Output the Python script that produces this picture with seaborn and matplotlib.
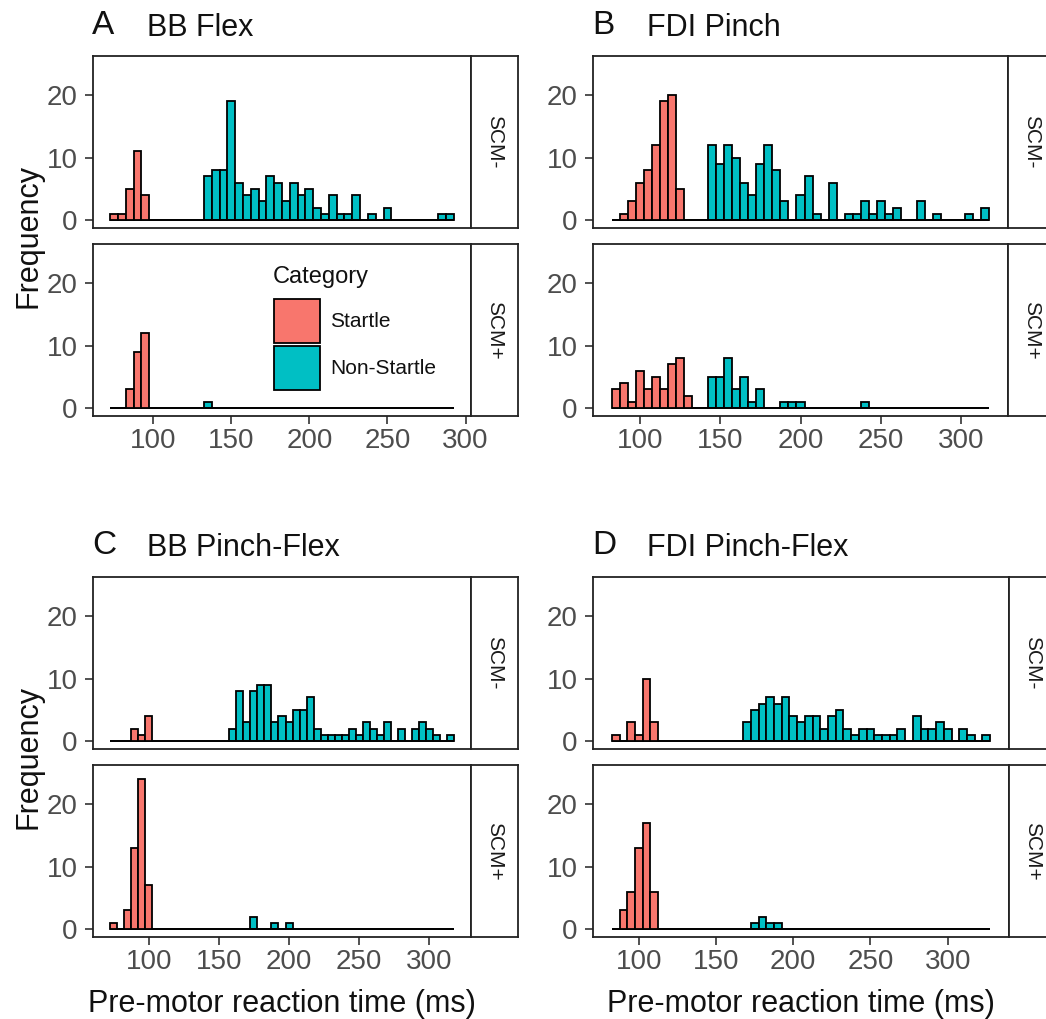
import numpy as np
import pandas as pd
import matplotlib
matplotlib.use("Agg")
import matplotlib.pyplot as plt
from matplotlib.patches import Rectangle
import seaborn as sns

# ---- data: counts per 5 ms bin, bins start at the given lower edge ----
BIN_WIDTH = 5.0
categories = ["Startle", "Non-Startle"]
facet_labels = ["SCM-", "SCM+"]

# BB Flex (44 bins from 72.5 ms)
bb_flex_start = 72.5
bb_flex_neg_startle = [1, 1, 5, 11, 4] + [0] * 39
bb_flex_neg_non = ([0] * 12
                   + [7, 8, 8, 19, 6, 4, 5, 3, 7, 6, 3, 6, 4, 5, 2, 1, 4, 1, 1, 4]
                   + [0, 1, 0, 2, 0, 0, 0, 0, 0, 0, 1, 1])
bb_flex_pos_startle = [0, 0, 3, 9, 12] + [0] * 39
bb_flex_pos_non = [0] * 12 + [1] + [0] * 31

# FDI Pinch (47 bins from 82.5 ms)
fdi_pinch_start = 82.5
fdi_pinch_neg_startle = [0, 1, 3, 6, 8, 12, 19, 20, 5] + [0] * 38
fdi_pinch_neg_non = ([0] * 12
                     + [12, 9, 12, 10, 6, 4, 9, 12, 8, 3]
                     + [0, 4, 7, 1, 0, 6, 0, 1, 1, 3, 1, 3, 1, 2, 0, 0, 3, 0, 1,
                        0, 0, 0, 1, 0, 2])
fdi_pinch_pos_startle = [3, 4, 1, 6, 3, 5, 3, 7, 8, 2] + [0] * 37
fdi_pinch_pos_non = ([0] * 12 + [5, 5, 8, 3, 5, 1, 3] + [0, 0, 1, 1, 1]
                     + [0] * 7 + [1] + [0] * 15)

# BB Pinch-Flex (49 bins from 72.5 ms)
bb_pf_start = 72.5
bb_pf_neg_startle = [0, 0, 0, 2, 1, 4] + [0] * 43
bb_pf_neg_non = ([0] * 17
                 + [2, 8, 3, 8, 9, 9, 3, 4, 3, 5, 5, 7, 2, 1, 1, 1, 1, 2, 1, 3,
                    2, 1, 3, 0, 2, 0, 2, 3, 2, 1, 0, 1])
bb_pf_pos_startle = [1, 0, 3, 13, 24, 7] + [0] * 43
bb_pf_pos_non = [0] * 20 + [2, 0, 0, 1, 0, 1] + [0] * 23

# FDI Pinch-Flex (49 bins from 82.5 ms)
fdi_pf_start = 82.5
fdi_pf_neg_startle = [1, 0, 3, 1, 10, 3] + [0] * 43
fdi_pf_neg_non = ([0] * 17
                  + [3, 5, 6, 7, 6, 7, 4, 3, 4, 4, 2, 4, 5, 2, 1, 2, 2, 1, 1, 1,
                     2, 0, 4, 2, 2, 3, 2, 0, 2, 1, 0, 1])
fdi_pf_pos_startle = [0, 3, 6, 13, 17, 6] + [0] * 43
fdi_pf_pos_non = [0] * 18 + [1, 2, 1, 1] + [0] * 27

# ---- styling ----
W, H = 1046, 1019
STARTLE_COL = "#F8766D"
NON_COL = "#00BFC4"
TICK_COL = "#4D4D4D"
LINE_COL = "#222222"
TEXT_COL = "#111111"
SANS = "Liberation Sans"

sns.set_theme(style="white")
plt.rcParams["font.family"] = [SANS, "DejaVu Sans"]

fig = plt.figure(figsize=(W / 100, H / 100), dpi=100)
fig.patch.set_facecolor("white")


def frame(x0, y0, x1, y1):
    """Axes placed by pixel box (top-left origin)."""
    return fig.add_axes([x0 / W, 1 - y1 / H, (x1 - x0) / W, (y1 - y0) / H])


def draw_facet(ax, edges, startle, non, show_x):
    centers = (edges[:-1] + edges[1:]) / 2
    n = len(centers)
    df = pd.DataFrame({
        "rt": np.concatenate([centers, centers]),
        "count": list(startle) + list(non),
        "Category": ["Startle"] * n + ["Non-Startle"] * n,
    })
    sns.histplot(data=df, x="rt", weights="count", hue="Category",
                 hue_order=categories, palette=[STARTLE_COL, NON_COL],
                 binwidth=BIN_WIDTH, binrange=(edges[0], edges[-1]),
                 multiple="layer", alpha=1, edgecolor="black",
                 linewidth=1.3, legend=False, ax=ax)
    pad = 0.05 * (edges[-1] - edges[0])
    ax.set_xlim(edges[0] - pad, edges[-1] + pad)
    ax.set_ylim(-1.25, 26.25)
    ax.set_yticks([0, 10, 20])
    ax.set_xticks([100, 150, 200, 250, 300])
    ax.set_xlabel("")
    ax.set_ylabel("")
    ax.set_facecolor("white")
    for sp in ax.spines.values():
        sp.set_color(LINE_COL)
        sp.set_linewidth(1.3)
        sp.set_visible(True)
    ax.tick_params(axis="y", left=True, length=5.5, width=1.1, color=LINE_COL,
                   pad=5.5, labelsize=20, labelcolor=TICK_COL)
    ax.tick_params(axis="x", bottom=show_x, labelbottom=show_x, length=5.5,
                   width=1.1, color=LINE_COL, pad=3, labelsize=20,
                   labelcolor=TICK_COL)


def draw_strip(x0, y0, x1, y1, text):
    s = frame(x0, y0, x1, y1)
    s.set_xticks([])
    s.set_yticks([])
    s.set_facecolor("white")
    for sp in s.spines.values():
        sp.set_color(LINE_COL)
        sp.set_linewidth(1.3)
        sp.set_visible(True)
    s.text(0.5, 0.5, text, rotation=-90, ha="center", va="center",
           fontsize=15, color="#1A1A1A", transform=s.transAxes)


def draw_panel(x0, x1, top, letter, title, start, nbins, series, xlabel, ylabel):
    edges = start + BIN_WIDTH * np.arange(nbins + 1)
    rows = [(top, top + 172), (top + 188, top + 360)]
    for (y0, y1), (st, nn), lab, show_x in zip(rows, series, facet_labels,
                                                [False, True]):
        ax = frame(x0, y0, x1, y1)
        draw_facet(ax, edges, st, nn, show_x)
        draw_strip(x1, y0, x1 + 47, y1, lab)
    fig.text((x0 - 1) / W, 1 - (top - 31) / H, letter, fontsize=24,
             ha="left", va="center", color=TEXT_COL)
    fig.text((x0 + 54) / W, 1 - (top - 28.5) / H, title, fontsize=22,
             ha="left", va="center", color=TEXT_COL)
    if ylabel:
        fig.text(29 / W, 1 - (top + 180) / H, "Frequency", fontsize=22,
                 rotation=90, ha="center", va="center", color=TEXT_COL)
    if xlabel:
        fig.text((x0 + x1) / 2 / W, 1 - (top + 427) / H,
                 "Pre-motor reaction time (ms)", fontsize=22, ha="center",
                 va="center", color=TEXT_COL)


draw_panel(93, 471, 56, "A", "BB Flex", bb_flex_start, 44,
           [(bb_flex_neg_startle, bb_flex_neg_non),
            (bb_flex_pos_startle, bb_flex_pos_non)], False, True)
draw_panel(593, 1008, 56, "B", "FDI Pinch", fdi_pinch_start, 47,
           [(fdi_pinch_neg_startle, fdi_pinch_neg_non),
            (fdi_pinch_pos_startle, fdi_pinch_pos_non)], False, False)
draw_panel(93, 471, 577, "C", "BB Pinch-Flex", bb_pf_start, 49,
           [(bb_pf_neg_startle, bb_pf_neg_non),
            (bb_pf_pos_startle, bb_pf_pos_non)], True, True)
draw_panel(593, 1009, 577, "D", "FDI Pinch-Flex", fdi_pf_start, 49,
           [(fdi_pf_neg_startle, fdi_pf_neg_non),
            (fdi_pf_pos_startle, fdi_pf_pos_non)], True, False)

# legend for the fill categories
fig.text(273 / W, 1 - 277 / H, "Category", fontsize=17,
         ha="left", va="center", color=TEXT_COL)
for (ky0, ky1), col, lab in zip([(299, 343), (346, 390)],
                                [STARTLE_COL, NON_COL], categories):
    fig.patches.append(Rectangle((274 / W, 1 - ky1 / H), 46 / W,
                                 (ky1 - ky0) / H, transform=fig.transFigure,
                                 facecolor=col, edgecolor="black",
                                 linewidth=1.3))
    fig.text(330 / W, 1 - (ky0 + ky1) / 2 / H, lab, fontsize=15,
             ha="left", va="center", color=TEXT_COL)

fig.savefig("out.png", dpi=100, facecolor="white")
